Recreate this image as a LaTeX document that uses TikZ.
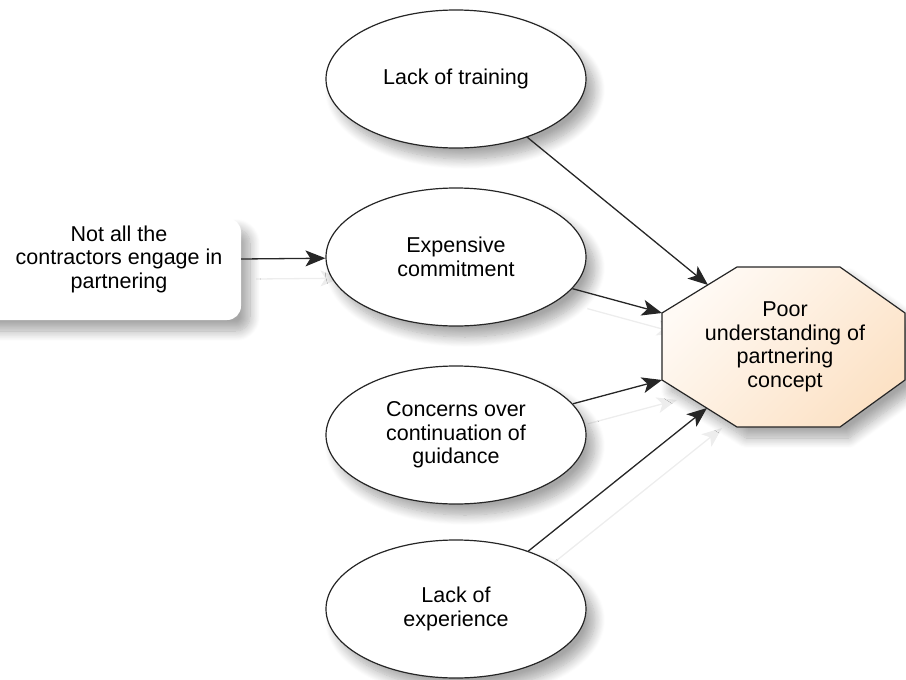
\documentclass[tikz,border=0pt]{standalone}
\usepackage{fontspec}
\setmainfont{Liberation Sans}
\usetikzlibrary{shapes.geometric,arrows.meta,shadows.blur,backgrounds}
\definecolor{peachlight}{HTML}{FFFAF5}
\definecolor{peachdark}{HTML}{FCE2C6}
\begin{document}
\begin{tikzpicture}[x=1pt,y=-1pt,
  every node/.style={font=\fontsize{21.5}{23.5}\selectfont, align=center},
  softshadow/.style={blur shadow={shadow xshift=9pt, shadow yshift=-11pt,
      shadow blur radius=10pt, shadow blur steps=12, shadow opacity=35}},
  cause/.style={ellipse, draw=black!85, line width=1.2pt, fill=white,
      minimum width=260pt, minimum height=138pt, inner sep=0pt, softshadow},
  tipstyle/.style={-{Stealth[length=20pt,width=16pt,inset=5pt]}},
  link/.style={draw=black!85, line width=1.3pt, tipstyle},
  linkghost/.style={draw=black!7, line width=1.3pt, tipstyle}
]
\useasboundingbox (0,0) rectangle (906,680);
\clip (0,0) rectangle (906,680);

% note card on the left
\path[fill=white, rounded corners=14pt, softshadow] (-30,218) rectangle (241,320);
\node[minimum width=244pt, inner sep=0pt] (notall) at (119,259)
  {Not all the\\contractors engage in\\partnering};

% causes
\node[cause] (train) at (456,79)  {Lack of training};
\node[cause] (exp)   at (456,257) {Expensive\\commitment};
\node[cause] (conc)  at (456,435) {Concerns over\\continuation of\\guidance};
\node[cause] (expr)  at (456,609) {Lack of\\experience};

% octagon for the effect
\coordinate (o1) at (737,267);
\coordinate (o2) at (840,267);
\coordinate (o3) at (905,313);
\coordinate (o4) at (905,380);
\coordinate (o5) at (840,427);
\coordinate (o6) at (737,427);
\coordinate (o7) at (662,380);
\coordinate (o8) at (662,313);
\draw[line width=1.2pt, draw=black!85, top color=peachlight, bottom color=peachdark,
      shading angle=45, softshadow]
  (o1) -- (o2) -- (o3) -- (o4) -- (o5) -- (o6) -- (o7) -- (o8) -- cycle;
\node (poor) at (785,347) {Poor\\understanding of\\partnering\\concept};

% arrow landing points on the octagon
\coordinate (in1) at (708,285);
\coordinate (in4) at (707,408);

% faint connector shadows
\begin{scope}[on background layer]
  \begin{scope}[transform canvas={shift={(15,20)}}]
    \draw[linkghost] (notall.east) -- (exp);
    \draw[linkghost] (exp) -- (o8);
    \draw[linkghost] (conc) -- (o7);
    \draw[linkghost] (expr) -- (in4);
  \end{scope}
\end{scope}

% connectors
\draw[link] (notall.east) -- (exp);
\draw[link] (train) -- (in1);
\draw[link] (exp) -- (o8);
\draw[link] (conc) -- (o7);
\draw[link] (expr) -- (in4);
\end{tikzpicture}
\end{document}
